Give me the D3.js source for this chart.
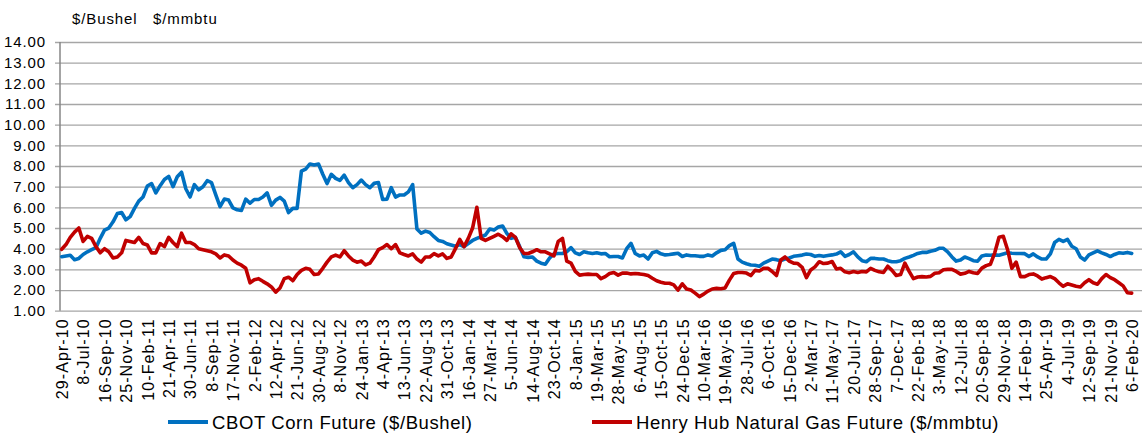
<!DOCTYPE html>
<html>
<head>
<meta charset="utf-8">
<script src="https://cdn.jsdelivr.net/npm/d3@7"></script>
<style>
  body { margin: 0; background: #fff; }
  text { font-family: "Liberation Sans", Arial, sans-serif; fill: #000; }
</style>
</head>
<body>
<div id="chart"></div>
<script>
// x labels: one every 50 trading days
const dateLabels = [
  "29-Apr-10", "8-Jul-10", "16-Sep-10", "25-Nov-10", "10-Feb-11", "21-Apr-11", "30-Jun-11",
  "8-Sep-11", "17-Nov-11", "2-Feb-12", "12-Apr-12", "21-Jun-12", "30-Aug-12", "8-Nov-12",
  "24-Jan-13", "4-Apr-13", "13-Jun-13", "22-Aug-13", "31-Oct-13", "16-Jan-14", "27-Mar-14",
  "5-Jun-14", "14-Aug-14", "23-Oct-14", "8-Jan-15", "19-Mar-15", "28-May-15", "6-Aug-15",
  "15-Oct-15", "24-Dec-15", "10-Mar-16", "19-May-16", "28-Jul-16", "6-Oct-16", "15-Dec-16",
  "2-Mar-17", "11-May-17", "20-Jul-17", "28-Sep-17", "7-Dec-17", "22-Feb-18", "3-May-18",
  "12-Jul-18", "20-Sep-18", "29-Nov-18", "14-Feb-19", "25-Apr-19", "4-Jul-19", "12-Sep-19",
  "21-Nov-19", "6-Feb-20"
];

// one value every 10 trading days (5 per label step)
const samplesPerLabel = 5;

const cornFuture = [
  3.61, 3.65, 3.68, 3.47, 3.53, 3.72, 3.85, 3.95, 4.05, 4.5,
  4.9, 5.0, 5.3, 5.7, 5.75, 5.4, 5.55, 5.95, 6.3, 6.5,
  7.03, 7.15, 6.7, 7.05, 7.35, 7.5, 7.0, 7.48, 7.7, 6.9,
  6.5, 7.1, 6.85, 7.0, 7.29, 7.2, 6.6, 6.03, 6.4, 6.35,
  5.97, 5.88, 5.85, 6.4, 6.2, 6.38, 6.38, 6.5, 6.7, 6.1,
  6.35, 6.48, 6.3, 5.75, 5.95, 5.95, 7.75, 7.85, 8.1, 8.05,
  8.1, 7.6, 7.15, 7.6, 7.4, 7.3, 7.56, 7.2, 6.95, 7.1,
  7.32, 7.1, 6.95, 7.16, 7.2, 6.38, 6.4, 6.95, 6.5, 6.6,
  6.6, 6.75, 7.1, 4.95, 4.75, 4.85, 4.78, 4.58, 4.4, 4.35,
  4.24, 4.18, 4.12, 4.2, 4.1, 4.25, 4.4, 4.5, 4.58, 4.66,
  4.95, 4.9, 5.05, 5.1, 4.74, 4.5, 4.55, 4.1, 3.61, 3.58,
  3.6, 3.4, 3.3, 3.25, 3.55, 3.75, 3.77, 3.77, 3.85, 4.05,
  3.8, 3.72, 3.85, 3.8, 3.77, 3.8, 3.75, 3.77, 3.61, 3.62,
  3.62, 3.55, 4.0, 4.26, 3.77, 3.65, 3.69, 3.5, 3.8, 3.87,
  3.75, 3.7, 3.72, 3.75, 3.78, 3.62, 3.7, 3.66, 3.66, 3.63,
  3.63, 3.7, 3.65, 3.8, 3.92, 3.95, 4.15, 4.26, 3.5, 3.35,
  3.27, 3.21, 3.2, 3.15, 3.3, 3.4, 3.5, 3.47, 3.42, 3.5,
  3.55, 3.63, 3.66, 3.69, 3.74, 3.72, 3.63, 3.67, 3.63, 3.67,
  3.7, 3.74, 3.85, 3.63, 3.72, 3.85, 3.6, 3.42, 3.37, 3.53,
  3.53, 3.5, 3.5, 3.42, 3.37, 3.37, 3.42, 3.53, 3.6, 3.68,
  3.77, 3.82, 3.82, 3.88, 3.92, 4.02, 4.02, 3.85, 3.6, 3.4,
  3.45, 3.6, 3.52, 3.42, 3.4, 3.65, 3.69, 3.68, 3.7, 3.68,
  3.74, 3.8, 3.78, 3.77, 3.77, 3.76, 3.62, 3.75, 3.6, 3.5,
  3.5, 3.75, 4.3, 4.45, 4.35, 4.45, 4.12, 4.0, 3.6, 3.45,
  3.7, 3.8, 3.9, 3.8, 3.72, 3.62, 3.72, 3.8, 3.78, 3.82, 3.77
];

const gasFuture = [
  3.97, 4.2, 4.55, 4.8, 5.0, 4.35, 4.6, 4.5, 4.1, 3.8,
  4.0, 3.85, 3.55, 3.6, 3.8, 4.4, 4.35, 4.3, 4.55, 4.25,
  4.18, 3.8, 3.8, 4.25, 4.1, 4.55, 4.3, 4.1, 4.75, 4.3,
  4.3, 4.2, 4.0, 3.95, 3.9, 3.85, 3.75, 3.55, 3.7, 3.65,
  3.45, 3.3, 3.2, 3.05, 2.35, 2.5, 2.55, 2.42, 2.3, 2.15,
  1.9, 2.1, 2.55, 2.62, 2.45, 2.75, 2.95, 3.05, 3.0, 2.75,
  2.78, 3.05, 3.35, 3.6, 3.69, 3.6, 3.9, 3.65, 3.45, 3.35,
  3.4, 3.22, 3.3, 3.6, 3.95, 4.05, 4.2, 4.0, 4.2, 3.8,
  3.72, 3.65, 3.75, 3.5, 3.35, 3.6, 3.6, 3.76, 3.65, 3.75,
  3.53, 3.6, 4.0, 4.45, 4.1, 4.5, 5.0, 6.0, 4.5, 4.4,
  4.5, 4.6, 4.7, 4.58, 4.4, 4.72, 4.55, 4.05, 3.77, 3.77,
  3.85, 3.95, 3.85, 3.85, 3.75, 3.65, 4.35, 4.5, 3.4, 3.3,
  2.9, 2.72, 2.75, 2.77, 2.75, 2.75, 2.55, 2.65, 2.8, 2.85,
  2.72, 2.82, 2.82, 2.78, 2.8, 2.78, 2.75, 2.7, 2.57, 2.45,
  2.38, 2.33, 2.33, 2.25, 2.0, 2.3, 2.05, 2.0, 1.85, 1.68,
  1.8, 1.95, 2.05, 2.08, 2.06, 2.1, 2.48, 2.8, 2.85, 2.85,
  2.82, 2.7, 2.95, 2.92, 3.05, 3.05, 2.9, 2.7, 3.45, 3.6,
  3.4, 3.3, 3.28, 3.1, 2.6, 2.97, 3.12, 3.37, 3.28, 3.3,
  3.38, 3.02, 3.05, 2.88, 2.84, 2.9, 2.85, 2.9, 2.88, 3.05,
  2.95, 2.88, 2.85, 3.15, 2.95, 2.7, 2.75, 3.3, 2.9, 2.55,
  2.63, 2.65, 2.63, 2.66, 2.81, 2.84, 2.98, 3.0, 3.0, 2.9,
  2.77, 2.81, 2.9, 2.84, 2.8, 3.06, 3.18, 3.25, 3.8, 4.55,
  4.6, 3.95, 3.05, 3.35, 2.65, 2.65, 2.75, 2.78, 2.68, 2.53,
  2.6, 2.65, 2.55, 2.35, 2.18, 2.3, 2.24, 2.18, 2.15, 2.35,
  2.5, 2.35, 2.28, 2.55, 2.75, 2.6, 2.5, 2.35, 2.2, 1.87, 1.85
];

const yTicks = [1, 2, 3, 4, 5, 6, 7, 8, 9, 10, 11, 12, 13, 14];
const seriesNames = ["CBOT Corn Future ($/Bushel)", "Henry Hub Natural Gas Future ($/mmbtu)"];
const unitLabels = ["$/Bushel", "$/mmbtu"];

let width = 1144;
let height = 435;
let axisX = 60;
let plotRight = 1142;
let colors = ["#0070c0", "#c00000"];

let svg = d3.select("#chart")
    .append("svg")
    .attr("width", width)
    .attr("height", height);

let x = d3.scaleLinear()
    .domain([0, (dateLabels.length - 1) * samplesPerLabel])
    .range([61.7, 1131.7]);

let xLab = d3.scalePoint()
    .domain(dateLabels)
    .range(x.range());

let y = d3.scaleLinear()
    .domain([1, 14])
    .range([310.7, 42]);

// y axis + gridlines
let yAxis = svg.append("g")
    .attr("transform", "translate(" + axisX + ",0)")
    .call(d3.axisLeft(y)
        .tickValues(yTicks)
        .tickFormat(d3.format(".2f"))
        .tickSize(-(plotRight - axisX))
        .tickSizeOuter(0)
        .tickPadding(14));

yAxis.select(".domain").remove();
yAxis.selectAll(".tick line")
    .attr("x1", -5)
    .attr("stroke", "#a6a6a6")
    .attr("stroke-width", 1.3);
yAxis.selectAll(".tick text")
    .style("font-size", "15px")
    .style("letter-spacing", "0.9px")
    .attr("fill", "#000");

svg.append("line")
    .attr("x1", axisX).attr("x2", axisX)
    .attr("y1", y(1)).attr("y2", y(14))
    .attr("stroke", "#868686")
    .attr("stroke-width", 1.5);

// x axis labels
let xAxis = svg.append("g")
    .attr("transform", "translate(0," + y(1) + ")")
    .call(d3.axisBottom(xLab).tickSize(0));

xAxis.select(".domain").remove();
xAxis.selectAll(".tick text")
    .attr("transform", "rotate(-90)")
    .attr("text-anchor", "end")
    .attr("x", -7.5)
    .attr("y", 0)
    .attr("dy", "0.36em")
    .style("font-size", "16px")
    .style("letter-spacing", "1.1px")
    .attr("fill", "#000");

// unit labels above axis
let unitX = [72, 153];
svg.selectAll(".unit")
    .data(unitLabels)
    .enter()
    .append("text")
    .attr("class", "unit")
    .attr("x", function(d, i) { return unitX[i]; })
    .attr("y", 24)
    .style("font-size", "15px")
    .style("letter-spacing", "0.9px")
    .text(function(d) { return d; });

// lines
let line = d3.line()
    .x(function(d, i) { return x(i); })
    .y(function(d) { return y(d); });

[cornFuture, gasFuture].forEach(function(series, k) {
    svg.append("path")
        .datum(series)
        .attr("fill", "none")
        .attr("stroke", colors[k])
        .attr("stroke-width", 3.6)
        .attr("stroke-linejoin", "round")
        .attr("stroke-linecap", "round")
        .attr("d", line);
});

// legend
let legendX = [168, 592];
let legend = svg.selectAll(".legend")
    .data(seriesNames)
    .enter()
    .append("g")
    .attr("class", "legend")
    .attr("transform", function(d, i) { return "translate(" + legendX[i] + ",422)"; });

legend.append("line")
    .attr("x1", 0).attr("x2", 40)
    .attr("stroke", function(d, i) { return colors[i]; })
    .attr("stroke-width", 4);

legend.append("text")
    .attr("x", 44)
    .attr("dy", "0.36em")
    .style("font-size", "18.5px")
    .style("letter-spacing", "0.6px")
    .text(function(d) { return d; });
</script>
</body>
</html>
